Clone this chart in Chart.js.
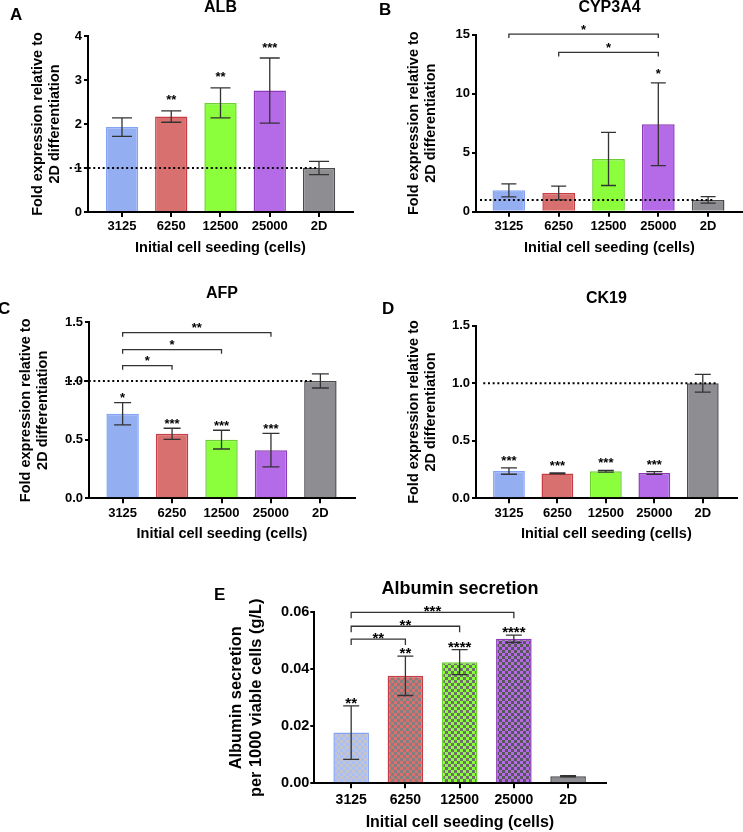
<!DOCTYPE html>
<html>
<head>
<meta charset="utf-8">
<script src="https://cdn.jsdelivr.net/npm/chart.js@4"></script>
<style>
  body { margin: 0; background: #fff; }
  #fig { position: relative; width: 743px; height: 832px; overflow: hidden; font-family: 'Liberation Sans', Arial, sans-serif; }
  #fig canvas { position: absolute; }
  .tag { position: absolute; font-weight: bold; font-size: 17px; line-height: 1; }
</style>
</head>
<body>
<div id="fig">
  <canvas id="albChart" width="370" height="262" style="left:0;top:0"></canvas>
  <canvas id="cypChart" width="373" height="262" style="left:370px;top:0"></canvas>
  <canvas id="afpChart" width="370" height="280" style="left:0;top:265px"></canvas>
  <canvas id="ck19Chart" width="373" height="280" style="left:370px;top:265px"></canvas>
  <canvas id="secChart" width="425" height="272" style="left:190px;top:560px"></canvas>
  <div class="tag" style="left:10px;top:6px">A</div>
  <div class="tag" style="left:379px;top:1px">B</div>
  <div class="tag" style="left:-2px;top:300px">C</div>
  <div class="tag" style="left:382px;top:300px">D</div>
  <div class="tag" style="left:214px;top:586px">E</div>
</div>
<script>
Chart.defaults.font.family = "'Liberation Sans', Arial, sans-serif"
Chart.defaults.color = '#000'

const seeding = ['3125', '6250', '12500', '25000', '2D']

// A - ALB
const albMean = [1.93, 2.17, 2.48, 2.76, 1.0]
const albErr = [0.21, 0.13, 0.34, 0.74, 0.15]
const albStars = ['', '**', '**', '***', '']

// B - CYP3A4
const cypMean = [1.81, 1.58, 4.47, 7.41, 1.0]
const cypErr = [0.55, 0.58, 2.25, 3.5, 0.27]
const cypStars = ['', '', '', '*', '']
const cypBrackets = [[0, 3, 15.05, '*'], [1, 3, 13.5, '*']]

// C - AFP
const afpMean = [0.72, 0.55, 0.50, 0.41, 1.0]
const afpErr = [0.095, 0.047, 0.08, 0.143, 0.06]
const afpStars = ['*', '***', '***', '***', '']
const afpBrackets = [[0, 1, 1.13, '*'], [0, 2, 1.267, '*'], [0, 3, 1.412, '**']]

// D - CK19
const ck19Mean = [0.237, 0.216, 0.235, 0.22, 1.0]
const ck19Err = [0.028, 0.004, 0.007, 0.012, 0.077]
const ck19Stars = ['***', '***', '***', '***', '']

// E - albumin secretion
const secMean = [0.0178, 0.0377, 0.0425, 0.0507, 0.0025]
const secErr = [0.0094, 0.0069, 0.0044, 0.0013, 0.0002]
const secStars = ['**', '**', '****', '****', '']
const secBrackets = [[0, 1, 0.0506, '**'], [0, 2, 0.0551, '**'], [0, 3, 0.06, '***']]

const fills = ['#94aef2', '#d87070', '#8bff3c', '#b56ae8', '#8e8e92']
const borders = ['#85a3f5', '#c83c46', '#6cd12e', '#8b3ab8', '#4a4a4a']

const checker = (base, check) => {
  const c = document.createElement('canvas')
  c.width = 6
  c.height = 6
  const g = c.getContext('2d')
  g.fillStyle = base
  g.fillRect(0, 0, 6, 6)
  g.fillStyle = check
  g.fillRect(0, 0, 3, 3)
  g.fillRect(3, 3, 3, 3)
  return g.createPattern(c, 'repeat')
}

const secFills = [
  checker('#a9bff5', '#c4c4ca'),
  checker('#d87070', '#808080'),
  checker('#8bff3c', '#6e6e6e'),
  checker('#b56ae8', '#575757'),
  '#8e8e92'
]

const bold = (size, lineHeight) => ({ size: size, weight: 'bold', lineHeight: lineHeight || 1.2 })

const makePanel = (id, p) => {
  const marks = {
    id: 'marks',
    afterDatasetsDraw(chart) {
      const ctx = chart.ctx
      const ys = chart.scales.y
      const bars = chart.getDatasetMeta(0).data
      ctx.save()
      ctx.strokeStyle = '#333'
      ctx.lineWidth = 1.3
      ctx.fillStyle = '#000'
      ctx.textAlign = 'center'
      ctx.textBaseline = 'alphabetic'
      ctx.font = 'bold ' + p.starSize + "px 'Liberation Sans', Arial"
      p.mean.forEach((m, i) => {
        const x = bars[i].x
        const top = ys.getPixelForValue(m + p.err[i])
        const bot = ys.getPixelForValue(m - p.err[i])
        ctx.beginPath()
        ctx.moveTo(x, top)
        ctx.lineTo(x, bot)
        ctx.moveTo(x - p.cap / 2, top)
        ctx.lineTo(x + p.cap / 2, top)
        ctx.moveTo(x - p.cap / 2, bot)
        ctx.lineTo(x + p.cap / 2, bot)
        ctx.stroke()
        if (p.stars[i]) ctx.fillText(p.stars[i], x, top - p.starGap)
      })
      ;(p.brackets || []).forEach(([a, b, level, label]) => {
        const xa = bars[a].x
        const xb = bars[b].x
        const y = ys.getPixelForValue(level)
        ctx.beginPath()
        ctx.moveTo(xa, y + p.bracketTick)
        ctx.lineTo(xa, y)
        ctx.lineTo(xb, y)
        ctx.lineTo(xb, y + p.bracketTick)
        ctx.stroke()
        ctx.fillText(label, (xa + xb) / 2, y - p.bracketGap)
      })
      ctx.restore()
    }
  }

  const datasets = [{
    data: p.mean.map((v, i) => ({ x: i, y: v })),
    backgroundColor: p.fills || fills,
    borderColor: borders,
    borderWidth: 1.5,
    categoryPercentage: 0.8,
    barPercentage: 0.82,
    order: 2
  }]
  if (p.ref) {
    datasets.push({
      type: 'line',
      data: [{ x: p.ref[0], y: 1 }, { x: p.ref[1], y: 1 }],
      borderColor: '#000',
      borderWidth: 2,
      borderDash: [2, 2.7],
      pointRadius: 0,
      clip: false,
      order: 1
    })
  }

  return new Chart(document.getElementById(id), {
    type: 'bar',
    data: { datasets: datasets },
    plugins: [marks],
    options: {
      responsive: false,
      animation: false,
      layout: { padding: { left: 0, top: p.titleY - p.titleSize / 2, right: p.w - p.area[2], bottom: 0 } },
      plugins: {
        legend: { display: false },
        tooltip: { enabled: false },
        title: {
          display: true,
          text: p.title,
          fullSize: false,
          color: '#000',
          font: bold(p.titleSize, 1),
          padding: { top: 0, bottom: p.area[1] - p.titleY - p.titleSize / 2 }
        }
      },
      scales: {
        x: {
          type: 'linear',
          offset: false,
          min: p.xMin,
          max: p.xMax,
          afterFit: s => { s.height = p.h - p.area[3] },
          border: { color: '#000', width: 2 },
          grid: { offset: false, drawOnChartArea: false, color: '#000', lineWidth: 2, tickLength: 5 },
          ticks: {
            stepSize: 1,
            includeBounds: false,
            autoSkip: false,
            maxRotation: 0,
            padding: p.xTickPad,
            color: '#000',
            font: bold(p.xTickSize),
            callback: v => seeding[v]
          },
          title: {
            display: true,
            text: 'Initial cell seeding (cells)',
            color: '#000',
            font: bold(p.xTitleSize),
            padding: { top: 0, bottom: p.h - p.xTitleY - p.xTitleSize * 0.6 }
          }
        },
        y: {
          min: 0,
          max: p.yMax,
          afterFit: s => { s.width = p.area[0] },
          border: { color: '#000', width: 2 },
          grid: { drawOnChartArea: false, color: '#000', lineWidth: 2, tickLength: 4 },
          ticks: {
            stepSize: p.yStep,
            padding: p.yTickPad,
            color: '#000',
            font: bold(p.yTickSize),
            callback: v => v.toFixed(p.yDigits)
          },
          title: {
            display: true,
            text: p.yTitle,
            color: '#000',
            font: bold(p.yTitleSize),
            padding: { top: p.yTitleX - p.yTitleSize * 0.6, bottom: 0 }
          }
        }
      }
    }
  })
}

const foldTitle = ['Fold expression relative to', '2D differentiation']
const small = { titleSize: 16, yTitleSize: 14.5, xTitleSize: 14.5, xTickSize: 13, yTickSize: 13, xTickPad: 2, yTickPad: 2, starSize: 13, bracketTick: 4, bracketGap: 0, yTitle: foldTitle }

makePanel('albChart', Object.assign({}, small, {
  title: 'ALB', mean: albMean, err: albErr, stars: albStars,
  w: 370, h: 262, area: [88, 36, 353, 212], titleY: 8, yTitleX: 38, xTitleY: 248,
  xMin: -0.69, xMax: 4.69, yMax: 4, yStep: 1, yDigits: 0, ref: [-1.06, 3.96], cap: 20, starGap: 6.5
}))

makePanel('cypChart', Object.assign({}, small, {
  title: 'CYP3A4', mean: cypMean, err: cypErr, stars: cypStars, brackets: cypBrackets,
  w: 373, h: 262, area: [106, 34.7, 373, 211.7], titleY: 8, yTitleX: 44, xTitleY: 248,
  xMin: -0.66, xMax: 4.7, yMax: 15, yStep: 5, yDigits: 0, ref: [-0.58, 4.1], cap: 15, starGap: 5
}))

makePanel('afpChart', Object.assign({}, small, {
  title: 'AFP', mean: afpMean, err: afpErr, stars: afpStars, brackets: afpBrackets,
  w: 370, h: 280, area: [89, 57.3, 355, 233.3], titleY: 29, yTitleX: 26, xTitleY: 269.3,
  xMin: -0.68, xMax: 4.7, yMax: 1.5, yStep: 0.5, yDigits: 1, ref: [-1.16, 3.85], cap: 17, starGap: 0.5, bracketGap: 1
}))

makePanel('ck19Chart', Object.assign({}, small, {
  title: 'CK19', mean: ck19Mean, err: ck19Err, stars: ck19Stars,
  w: 373, h: 280, area: [106, 60.7, 366.7, 233.3], titleY: 33.3, yTitleX: 44, xTitleY: 269,
  xMin: -0.68, xMax: 4.7, yMax: 1.5, yStep: 0.5, yDigits: 1, ref: [-0.53, 4.29], cap: 16, starGap: 3
}))

makePanel('secChart', {
  title: 'Albumin secretion', mean: secMean, err: secErr, stars: secStars, brackets: secBrackets,
  fills: secFills, yTitle: ['Albumin secretion', 'per 1000 viable cells (g/L)'],
  w: 425, h: 272, area: [124.3, 52.3, 415.5, 223.3], titleY: 29, titleSize: 18,
  yTitleX: 46.7, yTitleSize: 16.4, xTitleY: 263, xTitleSize: 16, xTickSize: 14, yTickSize: 14.5,
  xTickPad: 3, yTickPad: 1, starSize: 15, starGap: -2, bracketTick: 6, bracketGap: -3.5,
  xMin: -0.68, xMax: 4.69, yMax: 0.06, yStep: 0.02, yDigits: 2, cap: 16
})
</script>
</body>
</html>
